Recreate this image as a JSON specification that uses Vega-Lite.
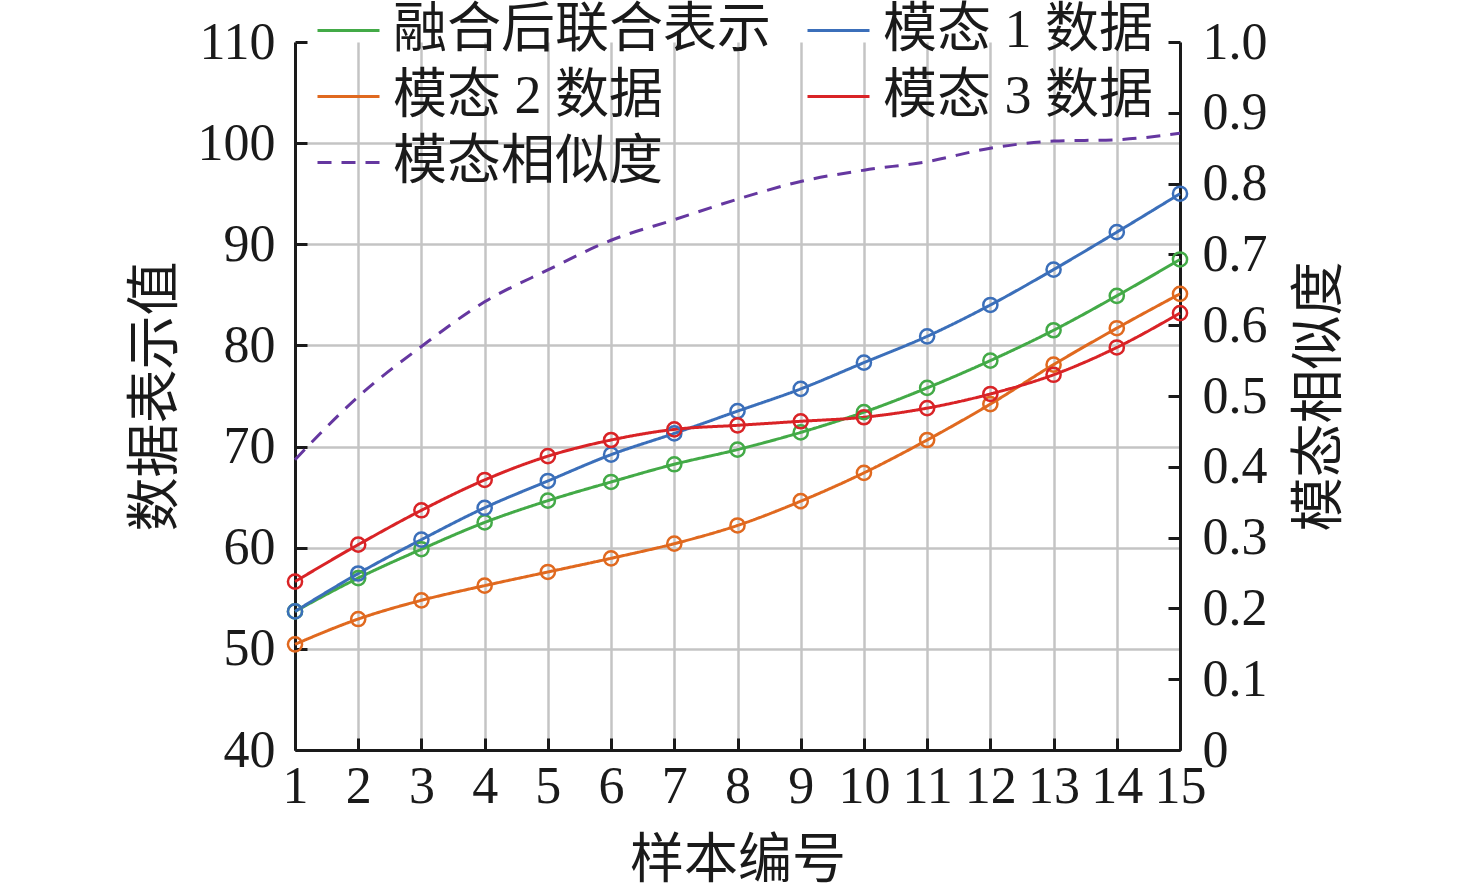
{
  "$schema": "https://vega.github.io/schema/vega-lite/v6.json",
  "width": 885,
  "height": 708,
  "autosize": {"type": "none"},
  "padding": {"left": 295, "top": 42, "right": 296, "bottom": 145},
  "background": "white",
  "data": {
    "values": [
      {"x": 1, "series": "融合后联合表示", "value": 53.7},
      {"x": 2, "series": "融合后联合表示", "value": 57.0},
      {"x": 3, "series": "融合后联合表示", "value": 59.85},
      {"x": 4, "series": "融合后联合表示", "value": 62.5},
      {"x": 5, "series": "融合后联合表示", "value": 64.65},
      {"x": 6, "series": "融合后联合表示", "value": 66.5},
      {"x": 7, "series": "融合后联合表示", "value": 68.25},
      {"x": 8, "series": "融合后联合表示", "value": 69.7},
      {"x": 9, "series": "融合后联合表示", "value": 71.4},
      {"x": 10, "series": "融合后联合表示", "value": 73.4},
      {"x": 11, "series": "融合后联合表示", "value": 75.8},
      {"x": 12, "series": "融合后联合表示", "value": 78.5},
      {"x": 13, "series": "融合后联合表示", "value": 81.5},
      {"x": 14, "series": "融合后联合表示", "value": 84.9},
      {"x": 15, "series": "融合后联合表示", "value": 88.5},
      {"x": 1, "series": "模态 1 数据", "value": 53.7},
      {"x": 2, "series": "模态 1 数据", "value": 57.45},
      {"x": 3, "series": "模态 1 数据", "value": 60.8},
      {"x": 4, "series": "模态 1 数据", "value": 63.95},
      {"x": 5, "series": "模态 1 数据", "value": 66.6},
      {"x": 6, "series": "模态 1 数据", "value": 69.2},
      {"x": 7, "series": "模态 1 数据", "value": 71.3},
      {"x": 8, "series": "模态 1 数据", "value": 73.5},
      {"x": 9, "series": "模态 1 数据", "value": 75.7},
      {"x": 10, "series": "模态 1 数据", "value": 78.3},
      {"x": 11, "series": "模态 1 数据", "value": 80.9},
      {"x": 12, "series": "模态 1 数据", "value": 84.0},
      {"x": 13, "series": "模态 1 数据", "value": 87.5},
      {"x": 14, "series": "模态 1 数据", "value": 91.2},
      {"x": 15, "series": "模态 1 数据", "value": 95.0},
      {"x": 1, "series": "模态 2 数据", "value": 50.45},
      {"x": 2, "series": "模态 2 数据", "value": 52.95},
      {"x": 3, "series": "模态 2 数据", "value": 54.8},
      {"x": 4, "series": "模态 2 数据", "value": 56.25},
      {"x": 5, "series": "模态 2 数据", "value": 57.6},
      {"x": 6, "series": "模态 2 数据", "value": 58.95},
      {"x": 7, "series": "模态 2 数据", "value": 60.4},
      {"x": 8, "series": "模态 2 数据", "value": 62.2},
      {"x": 9, "series": "模态 2 数据", "value": 64.6},
      {"x": 10, "series": "模态 2 数据", "value": 67.4},
      {"x": 11, "series": "模态 2 数据", "value": 70.65},
      {"x": 12, "series": "模态 2 数据", "value": 74.2},
      {"x": 13, "series": "模态 2 数据", "value": 78.1},
      {"x": 14, "series": "模态 2 数据", "value": 81.7},
      {"x": 15, "series": "模态 2 数据", "value": 85.1},
      {"x": 1, "series": "模态 3 数据", "value": 56.65},
      {"x": 2, "series": "模态 3 数据", "value": 60.3},
      {"x": 3, "series": "模态 3 数据", "value": 63.7},
      {"x": 4, "series": "模态 3 数据", "value": 66.7},
      {"x": 5, "series": "模态 3 数据", "value": 69.05},
      {"x": 6, "series": "模态 3 数据", "value": 70.65},
      {"x": 7, "series": "模态 3 数据", "value": 71.7},
      {"x": 8, "series": "模态 3 数据", "value": 72.1},
      {"x": 9, "series": "模态 3 数据", "value": 72.5},
      {"x": 10, "series": "模态 3 数据", "value": 72.9},
      {"x": 11, "series": "模态 3 数据", "value": 73.8},
      {"x": 12, "series": "模态 3 数据", "value": 75.2},
      {"x": 13, "series": "模态 3 数据", "value": 77.1},
      {"x": 14, "series": "模态 3 数据", "value": 79.8},
      {"x": 15, "series": "模态 3 数据", "value": 83.2},
      {"x": 1, "series": "模态相似度", "value": 0.41},
      {"x": 2, "series": "模态相似度", "value": 0.499},
      {"x": 3, "series": "模态相似度", "value": 0.57},
      {"x": 4, "series": "模态相似度", "value": 0.633},
      {"x": 5, "series": "模态相似度", "value": 0.678},
      {"x": 6, "series": "模态相似度", "value": 0.72},
      {"x": 7, "series": "模态相似度", "value": 0.749},
      {"x": 8, "series": "模态相似度", "value": 0.778},
      {"x": 9, "series": "模态相似度", "value": 0.803},
      {"x": 10, "series": "模态相似度", "value": 0.819},
      {"x": 11, "series": "模态相似度", "value": 0.831},
      {"x": 12, "series": "模态相似度", "value": 0.85},
      {"x": 13, "series": "模态相似度", "value": 0.86},
      {"x": 14, "series": "模态相似度", "value": 0.862},
      {"x": 15, "series": "模态相似度", "value": 0.871}
    ]
  },
  "encoding": {
    "x": {
      "field": "x",
      "type": "quantitative",
      "scale": {"domain": [1, 15], "nice": false, "zero": false},
      "axis": {
        "title": "样本编号",
        "values": [1, 2, 3, 4, 5, 6, 7, 8, 9, 10, 11, 12, 13, 14, 15],
        "format": "d",
        "labelPadding": 23,
        "titlePadding": 22,
        "labelOverlap": false,
        "labelFlush": false
      }
    }
  },
  "layer": [
    {
      "transform": [{"filter": "datum.series != '模态相似度'"}],
      "encoding": {
        "y": {
          "field": "value",
          "type": "quantitative",
          "scale": {"domain": [40, 110], "nice": false, "zero": false},
          "axis": {
            "title": "数据表示值",
            "orient": "left",
            "values": [40, 50, 60, 70, 80, 90, 100, 110],
            "grid": true,
            "gridOpacity": {"condition": {"test": "datum.value >= 110", "value": 0}, "value": 1},
            "labelPadding": 32,
            "labelFlush": false,
            "titlePadding": 14,
            "titleAngle": -90
          }
        }
      },
      "layer": [
        {
          "mark": {"type": "line", "interpolate": "monotone", "strokeWidth": 3},
          "encoding": {
            "color": {
              "field": "series",
              "type": "nominal",
              "scale": {
                "domain": ["融合后联合表示", "模态 1 数据", "模态 2 数据", "模态 3 数据", "模态相似度"],
                "range": ["#43aa47", "#3b6fba", "#e0691f", "#d92326", "#6537a0"]
              },
              "legend": {"gridAlign": "none", "columns": 2, "direction": "horizontal"}
            },
            "strokeDash": {
              "field": "series",
              "type": "nominal",
              "scale": {
                "domain": ["融合后联合表示", "模态 1 数据", "模态 2 数据", "模态 3 数据", "模态相似度"],
                "range": [[1, 0], [1, 0], [1, 0], [1, 0], [14, 10]]
              }
            }
          }
        },
        {
          "mark": {"type": "point", "filled": false, "size": 200, "strokeWidth": 2.5, "opacity": 1},
          "encoding": {
            "stroke": {
              "field": "series",
              "type": "nominal",
              "legend": null,
              "scale": {
                "domain": ["融合后联合表示", "模态 1 数据", "模态 2 数据", "模态 3 数据"],
                "range": ["#43aa47", "#3b6fba", "#e0691f", "#d92326"]
              }
            }
          }
        }
      ]
    },
    {
      "transform": [{"filter": "datum.series == '模态相似度'"}],
      "mark": {"type": "line", "interpolate": "monotone", "strokeWidth": 3},
      "encoding": {
        "y": {
          "field": "value",
          "type": "quantitative",
          "scale": {"domain": [0, 1], "nice": false, "zero": true},
          "axis": {
            "title": "模态相似度",
            "orient": "right",
            "values": [0, 0.1, 0.2, 0.3, 0.4, 0.5, 0.6, 0.7, 0.8, 0.9, 1.0],
            "labelExpr": "datum.value == 0 ? '0' : format(datum.value, '.1f')",
            "grid": false,
            "labelPadding": 34,
            "labelFlush": false,
            "titlePadding": 80,
            "titleAngle": -90
          }
        },
        "color": {"field": "series", "type": "nominal"},
        "strokeDash": {"field": "series", "type": "nominal"}
      }
    }
  ],
  "resolve": {"scale": {"y": "independent"}},
  "config": {
    "view": {"stroke": null},
    "axis": {
      "domainColor": "#1a1a1a",
      "domainWidth": 3,
      "tickColor": "#1a1a1a",
      "tickWidth": 3,
      "tickSize": -12,
      "gridColor": "#c4c4c4",
      "gridWidth": 2.5,
      "labelFont": "Liberation Serif",
      "labelFontSize": 52,
      "labelColor": "#1a1a1a",
      "titleFont": "Liberation Serif, Noto Sans CJK SC",
      "titleFontSize": 54,
      "titleFontWeight": "normal",
      "titleColor": "#1a1a1a"
    },
    "legend": {
      "orient": "none",
      "legendX": 21,
      "legendY": -44,
      "direction": "horizontal",
      "columns": 2,
      "gridAlign": "none",
      "title": null,
      "padding": 0,
      "symbolType": "stroke",
      "symbolSize": 3844,
      "symbolStrokeWidth": 3,
      "labelFont": "Liberation Serif, Noto Sans CJK SC",
      "labelFontSize": 54,
      "labelColor": "#1a1a1a",
      "labelOffset": 12,
      "labelLimit": 0,
      "columnPadding": 30,
      "rowPadding": 6
    }
  }
}
